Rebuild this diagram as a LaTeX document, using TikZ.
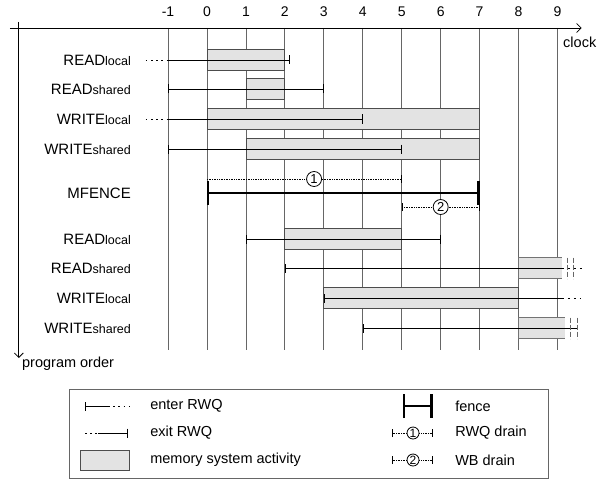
\documentclass[tikz,border=0pt]{standalone}
\usepackage{fontspec}
\setmainfont{Liberation Sans}
\usetikzlibrary{arrows.meta,positioning}

\newcommand{\oplab}[2]{{\fontsize{15}{18}\selectfont #1}{\fontsize{12.5}{15}\selectfont #2}}

\tikzset{
  tk/.tip={Bar[width=9pt]},
  gridline/.style={black!60,line width=0.8pt},
  act/.style={draw=black!70,fill=black!11,line width=0.8pt},
  rwq/.style={line width=0.8pt},
  lead/.style={line width=0.8pt,dash pattern=on 1.6pt off 3.6pt},
  more/.style={line width=0.8pt,dash pattern=on 2.5pt off 3.5pt},
  cut/.style={black!60,line width=0.8pt,dash pattern=on 5pt off 2pt},
  drain/.style={line width=0.7pt,densely dotted},
  fence/.style={line width=2.4pt,{Bar[width=24pt]}-{Bar[width=24pt]}},
  num/.style={circle,draw,line width=0.8pt,fill=white,inner sep=0pt,minimum size=15pt,font=\fontsize{13}{14}\selectfont},
  lab/.style={anchor=east,inner xsep=0pt},
  txt/.style={anchor=west,inner xsep=0pt,font=\fontsize{14.5}{17}\selectfont},
  ticklab/.style={font=\fontsize{14}{16}\selectfont}
}

\begin{document}
\begin{tikzpicture}[x=38.95pt,y=-1pt,>={Straight Barb[length=4.5pt,width=9pt]}]
\useasboundingbox (-5.314,0) rectangle (10.27,484);
% axes and clock grid
\coordinate (xs) at (-5.06,28);
\coordinate (xe) at (9.62,28);
\coordinate (ys) at (-4.83,22);
\coordinate (ye) at (-4.83,358);
\foreach \i in {-1,...,9}{
  \draw[gridline] (\i,28) -- (\i,350);
  \node[ticklab] (t\i) at (\i,12) {\i};
}
\draw[->,line width=0.8pt] (xs) -- (xe);
\draw[->,line width=0.8pt] (ys) -- (ye);
\node[ticklab,font=\fontsize{14.5}{17}\selectfont] (clk) at (9.57,42) {clock};
\node[txt] (po) at (-4.75,364) {program order};

% instruction labels
\foreach \y/\a/\b [count=\k] in {60/READ/local,89/READ/shared,119/WRITE/local,149/WRITE/shared,
    239/READ/local,268/READ/shared,298/WRITE/local,328/WRITE/shared}
  \node[lab] (r\k) at (-1.95,\y) {\oplab{\a}{\b}};
\node[lab,font=\fontsize{15}{18}\selectfont] (mf) at (-1.95,193) {MFENCE};

% memory system activity
\foreach \a/\b/\y in {0/2/60,1/2/89,0/7/119,1/7/149,2/5/239,3/8/298}
  \draw[act] (\a,\y-10.5) rectangle (\b,\y+10.5);
\foreach \y/\e in {268/9.11,328/9.19}{
  \fill[black!11] (8,\y-10.5) rectangle (\e,\y+10.5);
  \draw[black!55,line width=0.8pt] (\e,\y-10.5) -- (8,\y-10.5) -- (8,\y+10.5) -- (\e,\y+10.5);
}

% RWQ lifetimes
\draw[lead] (-1.57,60) -- (-1,60);
\draw[rwq,-tk] (-1,60) -- (2.12,60);
\draw[rwq,tk-tk] (-1,89) -- (3,89);
\draw[lead] (-1.57,119) -- (-1,119);
\draw[rwq,-tk] (-1,119) -- (4,119);
\draw[rwq,tk-tk] (-1,149) -- (5,149);
\draw[rwq,tk-tk] (1,239) -- (6,239);
\draw[rwq,tk-] (2,268) -- (9.11,268);
\draw[more] (9.11,268) -- (9.64,268);
\draw[rwq,tk-] (3,298) -- (9.11,298);
\draw[more] (9.11,298) -- (9.6,298);
\draw[rwq,tk-] (4,328) -- (9.52,328);
\foreach \x/\y in {9.25/268,9.40/268,9.33/328,9.51/328}
  \draw[cut] (\x,\y-10.5) -- (\x,\y+10.5);

% fence and drains
\node[num] (c1) at (2.75,179) {1};
\node[num] (c2) at (6,207) {2};
\draw[drain] (0,179) -- (c1);
\draw[drain,-{Bar[width=8pt]}] (c1) -- (5,179);
\draw[drain,{Bar[width=8pt]}-] (5,207) -- (c2);
\draw[drain,-{Bar[width=8pt]}] (c2) -- (7,207);
\draw[fence] (0,193) -- (7,193);

% legend
\draw[black!60,line width=0.8pt] (-3.52,389) rectangle (8.76,478);
\draw[rwq,tk-] (-3.13,406) -- (-2.54,406);
\draw[lead] (-2.54,406) -- (-2.0,406);
\draw[lead] (-3.13,433) -- (-2.8,433);
\draw[rwq,-tk] (-2.8,433) -- (-2.03,433);
\draw[act] (-3.26,450) rectangle (-2.0,470);
\node[txt] (le1) at (-1.46,406) {enter RWQ};
\node[txt] (le2) at (-1.46,433) {exit RWQ};
\node[txt] (le3) at (-1.46,460) {memory system activity};
\draw[fence] (5.03,406) -- (5.80,406);
\node[num,minimum size=12pt,font=\fontsize{12}{13}\selectfont] (lc1) at (5.29,433) {1};
\node[num,minimum size=12pt,font=\fontsize{12}{13}\selectfont] (lc2) at (5.29,460) {2};
\draw[drain,{Bar[width=8pt]}-] (4.75,433) -- (lc1);
\draw[drain,-{Bar[width=8pt]}] (lc1) -- (5.80,433);
\draw[drain,{Bar[width=8pt]}-] (4.75,460) -- (lc2);
\draw[drain,-{Bar[width=8pt]}] (lc2) -- (5.80,460);
\node[txt] (lf) at (6.37,406) {fence};
\node[txt] (lr) at (6.37,433) {RWQ drain};
\node[txt] (lw) at (6.37,460) {WB drain};
\end{tikzpicture}
\end{document}
